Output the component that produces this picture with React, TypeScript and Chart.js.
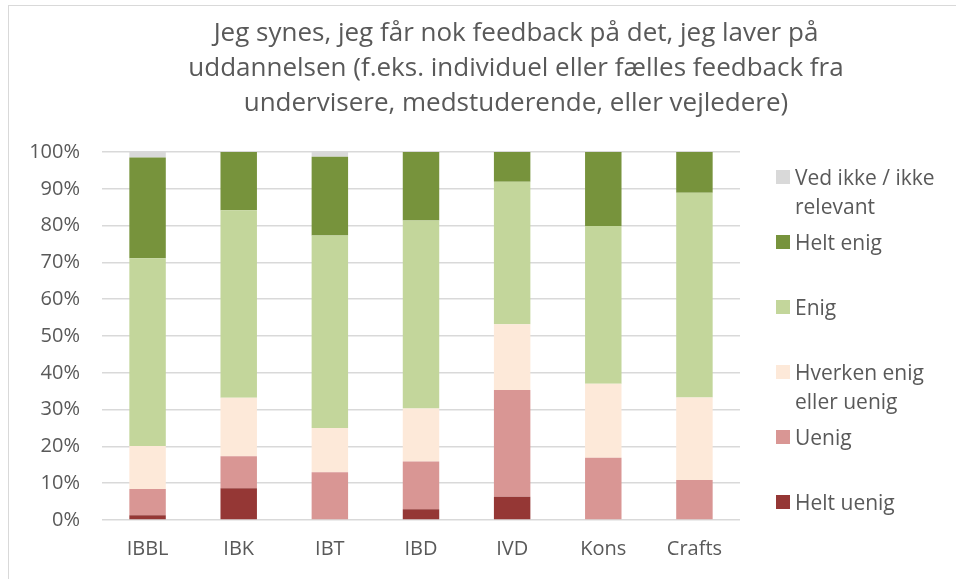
import React, { useEffect, useRef } from "react";
import { Chart, registerables } from "chart.js";

Chart.register(...registerables);

const titleLines = [
  "Jeg synes, jeg får nok feedback på det, jeg laver på",
  "uddannelsen (f.eks. individuel eller fælles feedback fra",
  "undervisere, medstuderende, eller vejledere)",
];

const categories = ["IBBL", "IBK", "IBT", "IBD", "IVD", "Kons", "Crafts"];

const heltUenig = [1.3, 8.6, 0, 2.9, 6.3, 0, 0];
const uenig = [7.1, 8.7, 13.0, 13.0, 29.0, 16.9, 10.9];
const hverken = [11.7, 15.9, 12.0, 14.4, 17.9, 20.1, 22.4];
const enig = [51.0, 51.0, 52.3, 51.1, 38.7, 42.9, 55.6];
const heltEnig = [27.4, 15.8, 21.4, 18.6, 8.1, 20.1, 11.1];
const vedIkke = [1.5, 0, 1.3, 0, 0, 0, 0];

const yTicks = [0, 10, 20, 30, 40, 50, 60, 70, 80, 90, 100];

const seriesNames = ["Helt uenig", "Uenig", "Hverken enig eller uenig", "Enig", "Helt enig", "Ved ikke / ikke relevant"];
const seriesColors = ["#953735", "#D99694", "#FDE9D9", "#C3D69B", "#77933C", "#D9D9D9"];

const legendItems = [
  { lines: ["Ved ikke / ikke", "relevant"], color: "#D9D9D9", center: 177 },
  { lines: ["Helt enig"], color: "#77933C", center: 242 },
  { lines: ["Enig"], color: "#C3D69B", center: 307 },
  { lines: ["Hverken enig", "eller uenig"], color: "#FDE9D9", center: 372 },
  { lines: ["Uenig"], color: "#D99694", center: 437 },
  { lines: ["Helt uenig"], color: "#953735", center: 502 },
];

const FONT = "'Open Sans', 'Liberation Sans', sans-serif";
const TEXT = "#595959";

export default function App() {
  const ref = useRef<HTMLCanvasElement | null>(null);

  useEffect(() => {
    if (!ref.current) return;
    const data = [heltUenig, uenig, hverken, enig, heltEnig, vedIkke];
    const chart = new Chart(ref.current, {
      type: "bar",
      data: {
        labels: categories,
        datasets: data.map((d, i) => ({
          label: seriesNames[i],
          data: d,
          backgroundColor: seriesColors[i],
          borderWidth: 0,
          barPercentage: 0.4,
          categoryPercentage: 1,
        })),
      },
      options: {
        animation: false,
        responsive: false,
        maintainAspectRatio: false,
        layout: { padding: { top: 152, right: 216, left: 0, bottom: 0 } },
        plugins: {
          legend: { display: false },
          title: { display: false },
          tooltip: { enabled: false },
        },
        scales: {
          x: {
            stacked: true,
            grid: { display: false, drawTicks: false },
            border: { display: false },
            ticks: { color: TEXT, font: { family: FONT, size: 20 }, padding: 17 },
            afterFit: (s: any) => {
              s.height = 59;
            },
          },
          y: {
            stacked: true,
            min: 0,
            max: 100,
            afterBuildTicks: (s: any) => {
              s.ticks = yTicks.map((v) => ({ value: v }));
            },
            grid: { color: "#D9D9D9", lineWidth: 1.5, drawTicks: false },
            border: { display: false },
            ticks: {
              color: TEXT,
              font: { family: FONT, size: 20 },
              padding: 22,
              callback: (v: any) => `${v}%`,
            },
            afterFit: (s: any) => {
              s.width = 102;
            },
          },
        },
      },
    });
    return () => chart.destroy();
  }, []);

  return (
    <div style={{ position: "fixed", left: 0, top: 0, width: 956, height: 579, overflow: "hidden", background: "#fff" }}>
      <div
        style={{
          position: "absolute",
          left: 8,
          top: 5,
          width: 1000,
          height: 700,
          border: "1.5px solid #D9D9D9",
          boxSizing: "border-box",
        }}
      />
      <canvas ref={ref} width={956} height={579} style={{ position: "absolute", left: 0, top: 0 }} />
      <div
        style={{
          position: "absolute",
          left: 116,
          width: 800,
          top: 14,
          textAlign: "center",
          fontFamily: FONT,
          fontSize: 26,
          lineHeight: "35px",
          color: TEXT,
          whiteSpace: "nowrap",
        }}
      >
        {titleLines.map((l, i) => (
          <div key={i}>{l}</div>
        ))}
      </div>
      {legendItems.map((it, i) => (
        <div key={i} style={{ position: "absolute", left: 776, top: it.center - 14.5, fontFamily: FONT, fontSize: 21, color: TEXT }}>
          <div style={{ position: "absolute", left: 0, top: 7.5, width: 14, height: 14, background: it.color }} />
          <div style={{ position: "absolute", left: 19, top: 0, lineHeight: "29px", whiteSpace: "nowrap" }}>
            {it.lines.map((l, j) => (
              <div key={j}>{l}</div>
            ))}
          </div>
        </div>
      ))}
    </div>
  );
}
